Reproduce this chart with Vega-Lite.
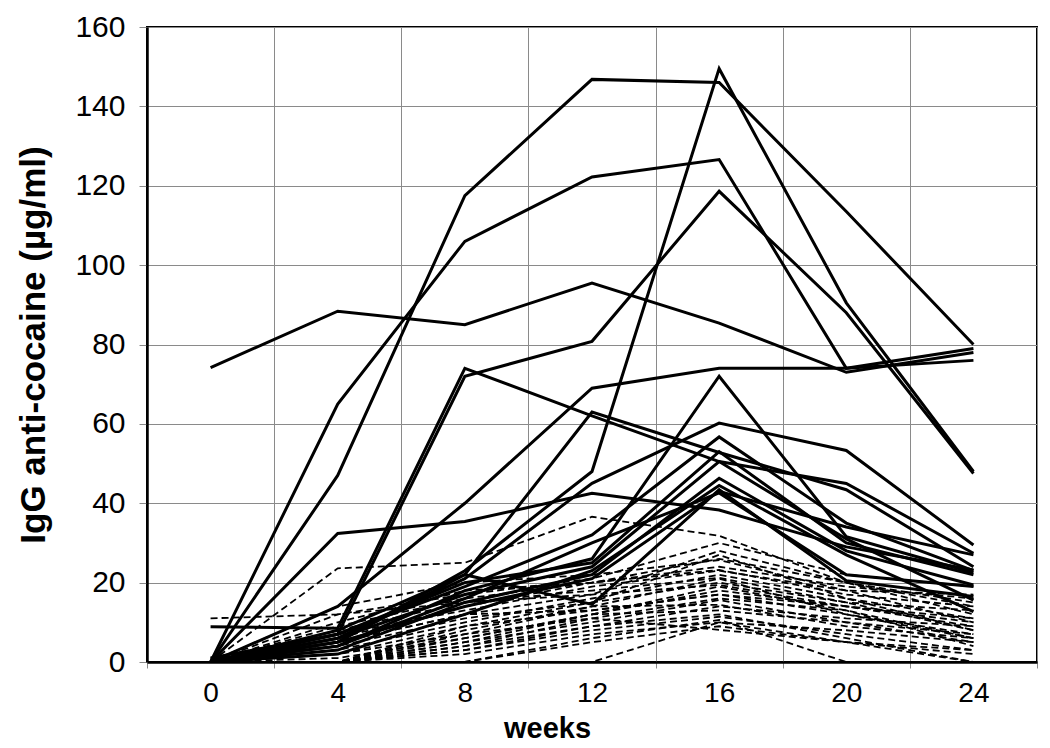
{
  "$schema": "https://vega.github.io/schema/vega-lite/v6.json",
  "width": 890,
  "height": 635,
  "autosize": "none",
  "padding": {"left": 147, "top": 27, "right": 13, "bottom": 86},
  "background": "white",
  "config": {
    "view": {"stroke": "black", "strokeWidth": 2},
    "font": "Liberation Sans"
  },
  "datasets": {
    "series": [
      {"s":"S1","t":"solid","w":0,"v":74.2},{"s":"S1","t":"solid","w":4,"v":88.4},{"s":"S1","t":"solid","w":8,"v":85},{"s":"S1","t":"solid","w":12,"v":95.5},{"s":"S1","t":"solid","w":16,"v":85.4},{"s":"S1","t":"solid","w":20,"v":73},{"s":"S1","t":"solid","w":24,"v":78},
      {"s":"S2","t":"solid","w":0,"v":0},{"s":"S2","t":"solid","w":4,"v":47},{"s":"S2","t":"solid","w":8,"v":117.5},{"s":"S2","t":"solid","w":12,"v":146.8},{"s":"S2","t":"solid","w":16,"v":146},{"s":"S2","t":"solid","w":20,"v":113.5},{"s":"S2","t":"solid","w":24,"v":80},
      {"s":"S3","t":"solid","w":0,"v":0},{"s":"S3","t":"solid","w":4,"v":65},{"s":"S3","t":"solid","w":8,"v":106},{"s":"S3","t":"solid","w":12,"v":122.2},{"s":"S3","t":"solid","w":16,"v":126.6},{"s":"S3","t":"solid","w":20,"v":74},{"s":"S3","t":"solid","w":24,"v":79},
      {"s":"S4","t":"solid","w":0,"v":0},{"s":"S4","t":"solid","w":4,"v":5},{"s":"S4","t":"solid","w":8,"v":23},{"s":"S4","t":"solid","w":12,"v":48},{"s":"S4","t":"solid","w":16,"v":149.5},{"s":"S4","t":"solid","w":20,"v":90.5},{"s":"S4","t":"solid","w":24,"v":48},
      {"s":"S5","t":"solid","w":0,"v":0},{"s":"S5","t":"solid","w":4,"v":7},{"s":"S5","t":"solid","w":8,"v":72},{"s":"S5","t":"solid","w":12,"v":80.8},{"s":"S5","t":"solid","w":16,"v":118.6},{"s":"S5","t":"solid","w":20,"v":88},{"s":"S5","t":"solid","w":24,"v":47.5},
      {"s":"S6","t":"solid","w":0,"v":8.9},{"s":"S6","t":"solid","w":4,"v":8.5},{"s":"S6","t":"solid","w":8,"v":74},{"s":"S6","t":"solid","w":12,"v":62},{"s":"S6","t":"solid","w":16,"v":50.5},{"s":"S6","t":"solid","w":20,"v":45},{"s":"S6","t":"solid","w":24,"v":27.4},
      {"s":"S7","t":"solid","w":0,"v":0},{"s":"S7","t":"solid","w":4,"v":14},{"s":"S7","t":"solid","w":8,"v":40},{"s":"S7","t":"solid","w":12,"v":69},{"s":"S7","t":"solid","w":16,"v":74},{"s":"S7","t":"solid","w":20,"v":74},{"s":"S7","t":"solid","w":24,"v":76},
      {"s":"S8","t":"solid","w":0,"v":0},{"s":"S8","t":"solid","w":4,"v":32.4},{"s":"S8","t":"solid","w":8,"v":35.4},{"s":"S8","t":"solid","w":12,"v":42.5},{"s":"S8","t":"solid","w":16,"v":38.3},{"s":"S8","t":"solid","w":20,"v":29},{"s":"S8","t":"solid","w":24,"v":23.2},
      {"s":"S9","t":"solid","w":0,"v":0},{"s":"S9","t":"solid","w":4,"v":6},{"s":"S9","t":"solid","w":8,"v":21},{"s":"S9","t":"solid","w":12,"v":45},{"s":"S9","t":"solid","w":16,"v":60.2},{"s":"S9","t":"solid","w":20,"v":53.3},{"s":"S9","t":"solid","w":24,"v":29.5},
      {"s":"S10","t":"solid","w":0,"v":0},{"s":"S10","t":"solid","w":4,"v":7},{"s":"S10","t":"solid","w":8,"v":19},{"s":"S10","t":"solid","w":12,"v":32},{"s":"S10","t":"solid","w":16,"v":56.7},{"s":"S10","t":"solid","w":20,"v":35},{"s":"S10","t":"solid","w":24,"v":23},
      {"s":"S11","t":"solid","w":0,"v":0},{"s":"S11","t":"solid","w":4,"v":5},{"s":"S11","t":"solid","w":8,"v":22},{"s":"S11","t":"solid","w":12,"v":63},{"s":"S11","t":"solid","w":16,"v":52.8},{"s":"S11","t":"solid","w":20,"v":43.4},{"s":"S11","t":"solid","w":24,"v":24},
      {"s":"S12","t":"solid","w":0,"v":0},{"s":"S12","t":"solid","w":4,"v":4},{"s":"S12","t":"solid","w":8,"v":18},{"s":"S12","t":"solid","w":12,"v":26},{"s":"S12","t":"solid","w":16,"v":72},{"s":"S12","t":"solid","w":20,"v":31.6},{"s":"S12","t":"solid","w":24,"v":22.5},
      {"s":"S13","t":"solid","w":0,"v":0},{"s":"S13","t":"solid","w":4,"v":3},{"s":"S13","t":"solid","w":8,"v":15},{"s":"S13","t":"solid","w":12,"v":22},{"s":"S13","t":"solid","w":16,"v":46.3},{"s":"S13","t":"solid","w":20,"v":28},{"s":"S13","t":"solid","w":24,"v":19.4},
      {"s":"S14","t":"solid","w":0,"v":0},{"s":"S14","t":"solid","w":4,"v":8},{"s":"S14","t":"solid","w":8,"v":22},{"s":"S14","t":"solid","w":12,"v":14.5},{"s":"S14","t":"solid","w":16,"v":43.4},{"s":"S14","t":"solid","w":20,"v":20.5},{"s":"S14","t":"solid","w":24,"v":16.5},
      {"s":"S15","t":"solid","w":0,"v":0},{"s":"S15","t":"solid","w":4,"v":6},{"s":"S15","t":"solid","w":8,"v":17},{"s":"S15","t":"solid","w":12,"v":24},{"s":"S15","t":"solid","w":16,"v":50.5},{"s":"S15","t":"solid","w":20,"v":31},{"s":"S15","t":"solid","w":24,"v":15.6},
      {"s":"S16","t":"solid","w":0,"v":0},{"s":"S16","t":"solid","w":4,"v":2},{"s":"S16","t":"solid","w":8,"v":12},{"s":"S16","t":"solid","w":12,"v":23},{"s":"S16","t":"solid","w":16,"v":44.5},{"s":"S16","t":"solid","w":20,"v":27},{"s":"S16","t":"solid","w":24,"v":12.7},
      {"s":"S17","t":"solid","w":0,"v":0},{"s":"S17","t":"solid","w":4,"v":4},{"s":"S17","t":"solid","w":8,"v":16},{"s":"S17","t":"solid","w":12,"v":30},{"s":"S17","t":"solid","w":16,"v":42.6},{"s":"S17","t":"solid","w":20,"v":22},{"s":"S17","t":"solid","w":24,"v":19},
      {"s":"S18","t":"solid","w":0,"v":1},{"s":"S18","t":"solid","w":4,"v":7},{"s":"S18","t":"solid","w":8,"v":20},{"s":"S18","t":"solid","w":12,"v":25},{"s":"S18","t":"solid","w":16,"v":53},{"s":"S18","t":"solid","w":20,"v":30},{"s":"S18","t":"solid","w":24,"v":22},
      {"s":"S19","t":"solid","w":0,"v":0},{"s":"S19","t":"solid","w":4,"v":5},{"s":"S19","t":"solid","w":8,"v":14},{"s":"S19","t":"solid","w":12,"v":21},{"s":"S19","t":"solid","w":16,"v":43},{"s":"S19","t":"solid","w":20,"v":34},{"s":"S19","t":"solid","w":24,"v":27},
      {"s":"D1","t":"dashed","w":0,"v":0},{"s":"D1","t":"dashed","w":4,"v":23.6},{"s":"D1","t":"dashed","w":8,"v":25},{"s":"D1","t":"dashed","w":12,"v":36.6},{"s":"D1","t":"dashed","w":16,"v":31.8},{"s":"D1","t":"dashed","w":20,"v":20},{"s":"D1","t":"dashed","w":24,"v":14},
      {"s":"D2","t":"dashed","w":0,"v":11},{"s":"D2","t":"dashed","w":4,"v":12},{"s":"D2","t":"dashed","w":8,"v":15},{"s":"D2","t":"dashed","w":12,"v":17},{"s":"D2","t":"dashed","w":16,"v":28},{"s":"D2","t":"dashed","w":20,"v":20},{"s":"D2","t":"dashed","w":24,"v":12},
      {"s":"D3","t":"dashed","w":0,"v":0},{"s":"D3","t":"dashed","w":4,"v":14},{"s":"D3","t":"dashed","w":8,"v":20},{"s":"D3","t":"dashed","w":12,"v":22},{"s":"D3","t":"dashed","w":16,"v":25.7},{"s":"D3","t":"dashed","w":20,"v":18},{"s":"D3","t":"dashed","w":24,"v":10},
      {"s":"D4","t":"dashed","w":0,"v":0},{"s":"D4","t":"dashed","w":4,"v":10},{"s":"D4","t":"dashed","w":8,"v":18},{"s":"D4","t":"dashed","w":12,"v":20},{"s":"D4","t":"dashed","w":16,"v":23.2},{"s":"D4","t":"dashed","w":20,"v":17},{"s":"D4","t":"dashed","w":24,"v":14},
      {"s":"D5","t":"dashed","w":0,"v":0},{"s":"D5","t":"dashed","w":4,"v":8},{"s":"D5","t":"dashed","w":8,"v":15},{"s":"D5","t":"dashed","w":12,"v":18},{"s":"D5","t":"dashed","w":16,"v":21.2},{"s":"D5","t":"dashed","w":20,"v":15},{"s":"D5","t":"dashed","w":24,"v":8},
      {"s":"D6","t":"dashed","w":0,"v":0},{"s":"D6","t":"dashed","w":4,"v":5},{"s":"D6","t":"dashed","w":8,"v":12},{"s":"D6","t":"dashed","w":12,"v":17},{"s":"D6","t":"dashed","w":16,"v":19.4},{"s":"D6","t":"dashed","w":20,"v":14},{"s":"D6","t":"dashed","w":24,"v":9},
      {"s":"D7","t":"dashed","w":0,"v":0},{"s":"D7","t":"dashed","w":4,"v":0},{"s":"D7","t":"dashed","w":8,"v":6},{"s":"D7","t":"dashed","w":12,"v":12},{"s":"D7","t":"dashed","w":16,"v":19},{"s":"D7","t":"dashed","w":20,"v":13},{"s":"D7","t":"dashed","w":24,"v":6},
      {"s":"D8","t":"dashed","w":0,"v":0},{"s":"D8","t":"dashed","w":4,"v":0},{"s":"D8","t":"dashed","w":8,"v":5},{"s":"D8","t":"dashed","w":12,"v":10},{"s":"D8","t":"dashed","w":16,"v":15.6},{"s":"D8","t":"dashed","w":20,"v":10},{"s":"D8","t":"dashed","w":24,"v":5},
      {"s":"D9","t":"dashed","w":0,"v":0},{"s":"D9","t":"dashed","w":4,"v":0},{"s":"D9","t":"dashed","w":8,"v":8},{"s":"D9","t":"dashed","w":12,"v":14},{"s":"D9","t":"dashed","w":16,"v":14.4},{"s":"D9","t":"dashed","w":20,"v":9},{"s":"D9","t":"dashed","w":24,"v":6},
      {"s":"D10","t":"dashed","w":0,"v":0},{"s":"D10","t":"dashed","w":4,"v":0},{"s":"D10","t":"dashed","w":8,"v":3},{"s":"D10","t":"dashed","w":12,"v":8},{"s":"D10","t":"dashed","w":16,"v":11.4},{"s":"D10","t":"dashed","w":20,"v":7},{"s":"D10","t":"dashed","w":24,"v":3},
      {"s":"D11","t":"dashed","w":0,"v":0},{"s":"D11","t":"dashed","w":4,"v":0},{"s":"D11","t":"dashed","w":8,"v":0},{"s":"D11","t":"dashed","w":12,"v":6},{"s":"D11","t":"dashed","w":16,"v":10.6},{"s":"D11","t":"dashed","w":20,"v":0},{"s":"D11","t":"dashed","w":24,"v":0},
      {"s":"D12","t":"dashed","w":0,"v":0},{"s":"D12","t":"dashed","w":4,"v":0},{"s":"D12","t":"dashed","w":8,"v":7},{"s":"D12","t":"dashed","w":12,"v":11},{"s":"D12","t":"dashed","w":16,"v":8.1},{"s":"D12","t":"dashed","w":20,"v":5},{"s":"D12","t":"dashed","w":24,"v":3},
      {"s":"D13","t":"dashed","w":0,"v":0},{"s":"D13","t":"dashed","w":4,"v":3},{"s":"D13","t":"dashed","w":8,"v":10},{"s":"D13","t":"dashed","w":12,"v":16},{"s":"D13","t":"dashed","w":16,"v":22},{"s":"D13","t":"dashed","w":20,"v":16},{"s":"D13","t":"dashed","w":24,"v":11},
      {"s":"D14","t":"dashed","w":0,"v":0},{"s":"D14","t":"dashed","w":4,"v":6},{"s":"D14","t":"dashed","w":8,"v":14},{"s":"D14","t":"dashed","w":12,"v":20},{"s":"D14","t":"dashed","w":16,"v":24},{"s":"D14","t":"dashed","w":20,"v":19},{"s":"D14","t":"dashed","w":24,"v":16},
      {"s":"D15","t":"dashed","w":0,"v":0},{"s":"D15","t":"dashed","w":4,"v":2},{"s":"D15","t":"dashed","w":8,"v":9},{"s":"D15","t":"dashed","w":12,"v":13},{"s":"D15","t":"dashed","w":16,"v":17},{"s":"D15","t":"dashed","w":20,"v":12},{"s":"D15","t":"dashed","w":24,"v":7},
      {"s":"D16","t":"dashed","w":0,"v":0},{"s":"D16","t":"dashed","w":4,"v":0},{"s":"D16","t":"dashed","w":8,"v":4},{"s":"D16","t":"dashed","w":12,"v":9},{"s":"D16","t":"dashed","w":16,"v":12},{"s":"D16","t":"dashed","w":20,"v":6},{"s":"D16","t":"dashed","w":24,"v":0},
      {"s":"D17","t":"dashed","w":0,"v":1},{"s":"D17","t":"dashed","w":4,"v":4},{"s":"D17","t":"dashed","w":8,"v":11},{"s":"D17","t":"dashed","w":12,"v":15},{"s":"D17","t":"dashed","w":16,"v":20},{"s":"D17","t":"dashed","w":20,"v":15},{"s":"D17","t":"dashed","w":24,"v":13},
      {"s":"D18","t":"dashed","w":0,"v":0},{"s":"D18","t":"dashed","w":4,"v":0},{"s":"D18","t":"dashed","w":8,"v":2},{"s":"D18","t":"dashed","w":12,"v":7},{"s":"D18","t":"dashed","w":16,"v":10},{"s":"D18","t":"dashed","w":20,"v":8},{"s":"D18","t":"dashed","w":24,"v":5},
      {"s":"D19","t":"dashed","w":0,"v":0},{"s":"D19","t":"dashed","w":4,"v":1},{"s":"D19","t":"dashed","w":8,"v":6},{"s":"D19","t":"dashed","w":12,"v":12},{"s":"D19","t":"dashed","w":16,"v":18},{"s":"D19","t":"dashed","w":20,"v":14},{"s":"D19","t":"dashed","w":24,"v":10},
      {"s":"D20","t":"dashed","w":0,"v":0},{"s":"D20","t":"dashed","w":4,"v":0},{"s":"D20","t":"dashed","w":8,"v":9},{"s":"D20","t":"dashed","w":12,"v":15},{"s":"D20","t":"dashed","w":16,"v":27},{"s":"D20","t":"dashed","w":20,"v":16},{"s":"D20","t":"dashed","w":24,"v":8},
      {"s":"D21","t":"dashed","w":0,"v":0},{"s":"D21","t":"dashed","w":4,"v":7},{"s":"D21","t":"dashed","w":8,"v":13},{"s":"D21","t":"dashed","w":12,"v":19},{"s":"D21","t":"dashed","w":16,"v":23},{"s":"D21","t":"dashed","w":20,"v":18},{"s":"D21","t":"dashed","w":24,"v":17},
      {"s":"D22","t":"dashed","w":0,"v":0},{"s":"D22","t":"dashed","w":4,"v":0},{"s":"D22","t":"dashed","w":8,"v":4},{"s":"D22","t":"dashed","w":12,"v":11},{"s":"D22","t":"dashed","w":16,"v":16},{"s":"D22","t":"dashed","w":20,"v":13},{"s":"D22","t":"dashed","w":24,"v":4},
      {"s":"D23","t":"dashed","w":0,"v":0},{"s":"D23","t":"dashed","w":4,"v":0},{"s":"D23","t":"dashed","w":8,"v":0},{"s":"D23","t":"dashed","w":12,"v":5},{"s":"D23","t":"dashed","w":16,"v":9},{"s":"D23","t":"dashed","w":20,"v":5},{"s":"D23","t":"dashed","w":24,"v":2},
      {"s":"D24","t":"dashed","w":0,"v":0},{"s":"D24","t":"dashed","w":4,"v":2},{"s":"D24","t":"dashed","w":8,"v":7},{"s":"D24","t":"dashed","w":12,"v":14},{"s":"D24","t":"dashed","w":16,"v":21},{"s":"D24","t":"dashed","w":20,"v":12},{"s":"D24","t":"dashed","w":24,"v":6},
      {"s":"D25","t":"dashed","w":0,"v":0},{"s":"D25","t":"dashed","w":4,"v":12},{"s":"D25","t":"dashed","w":8,"v":17},{"s":"D25","t":"dashed","w":12,"v":21},{"s":"D25","t":"dashed","w":16,"v":30},{"s":"D25","t":"dashed","w":20,"v":22},{"s":"D25","t":"dashed","w":24,"v":19},
      {"s":"D26","t":"dashed","w":0,"v":0},{"s":"D26","t":"dashed","w":4,"v":0},{"s":"D26","t":"dashed","w":8,"v":5},{"s":"D26","t":"dashed","w":12,"v":12},{"s":"D26","t":"dashed","w":16,"v":13},{"s":"D26","t":"dashed","w":20,"v":10},{"s":"D26","t":"dashed","w":24,"v":7},
      {"s":"D27","t":"dashed","w":0,"v":0},{"s":"D27","t":"dashed","w":4,"v":9},{"s":"D27","t":"dashed","w":8,"v":16},{"s":"D27","t":"dashed","w":12,"v":20},{"s":"D27","t":"dashed","w":16,"v":26},{"s":"D27","t":"dashed","w":20,"v":20},{"s":"D27","t":"dashed","w":24,"v":15},
      {"s":"D28","t":"dashed","w":0,"v":0},{"s":"D28","t":"dashed","w":4,"v":0},{"s":"D28","t":"dashed","w":8,"v":3},{"s":"D28","t":"dashed","w":12,"v":9},{"s":"D28","t":"dashed","w":16,"v":14},{"s":"D28","t":"dashed","w":20,"v":11},{"s":"D28","t":"dashed","w":24,"v":9},
      {"s":"D29","t":"dashed","w":0,"v":0},{"s":"D29","t":"dashed","w":4,"v":5},{"s":"D29","t":"dashed","w":8,"v":12},{"s":"D29","t":"dashed","w":12,"v":13},{"s":"D29","t":"dashed","w":16,"v":17},{"s":"D29","t":"dashed","w":20,"v":14},{"s":"D29","t":"dashed","w":24,"v":11},
      {"s":"D30","t":"dashed","w":0,"v":0},{"s":"D30","t":"dashed","w":4,"v":0},{"s":"D30","t":"dashed","w":8,"v":0},{"s":"D30","t":"dashed","w":12,"v":0},{"s":"D30","t":"dashed","w":16,"v":10},{"s":"D30","t":"dashed","w":20,"v":5},{"s":"D30","t":"dashed","w":24,"v":0}
    ]
  },
  "data": {"name": "series"},
  "encoding": {
    "x": {
      "field": "w",
      "type": "quantitative",
      "scale": {"domain": [-2, 26], "nice": false, "zero": false},
      "axis": {
        "title": "weeks",
        "values": [-2, 0, 2, 4, 6, 8, 10, 12, 14, 16, 18, 20, 22, 24, 26],
        "labelExpr": "(datum.value % 4 == 0 && datum.value >= 0 && datum.value <= 24) ? datum.label : ''",
        "labelFont": "Liberation Sans",
        "labelFontSize": 28,
        "labelColor": "black",
        "labelPadding": 11,
        "labelFlush": false,
        "labelOverlap": false,
        "grid": true,
        "gridColor": "#8a8a8a",
        "gridWidth": 1,
        "gridOpacity": {"condition": {"test": "datum.value % 4 == 0", "value": 0}, "value": 1},
        "ticks": true,
        "tickSize": 6,
        "tickColor": "#8a8a8a",
        "tickWidth": 1,
        "tickOpacity": {"condition": {"test": "datum.value % 4 == 0", "value": 0}, "value": 1},
        "domain": true,
        "domainColor": "black",
        "domainWidth": 2.5,
        "titleFont": "Liberation Sans",
        "titleFontSize": 29,
        "titleFontWeight": "bold",
        "titleColor": "black",
        "titleX": 400,
        "titleY": 66,
        "titleAlign": "center",
        "titleBaseline": "middle"
      }
    },
    "y": {
      "field": "v",
      "type": "quantitative",
      "scale": {"domain": [0, 160], "nice": false},
      "axis": {
        "title": "IgG anti-cocaine (µg/ml)",
        "values": [0, 20, 40, 60, 80, 100, 120, 140, 160],
        "labelFont": "Liberation Sans",
        "labelFontSize": 30,
        "labelColor": "black",
        "labelPadding": 14,
        "labelFlush": false,
        "grid": true,
        "gridColor": "#8a8a8a",
        "gridWidth": 1,
        "tickSize": 8,
        "tickColor": "#8a8a8a",
        "tickWidth": 1,
        "domainColor": "black",
        "domainWidth": 2.5,
        "titleFont": "Liberation Sans",
        "titleFontSize": 35,
        "titleFontWeight": "bold",
        "titleColor": "black",
        "titleX": -114,
        "titleBaseline": "middle"
      }
    },
    "detail": {"field": "s", "type": "nominal"}
  },
  "layer": [
    {
      "transform": [{"filter": "datum.t == 'dashed'"}],
      "mark": {"type": "line", "color": "black", "strokeWidth": 1.8, "strokeDash": [7, 4], "strokeJoin": "miter", "clip": true}
    },
    {
      "transform": [{"filter": "datum.t == 'solid'"}],
      "mark": {"type": "line", "color": "black", "strokeWidth": 3, "strokeJoin": "miter", "clip": true}
    }
  ]
}
